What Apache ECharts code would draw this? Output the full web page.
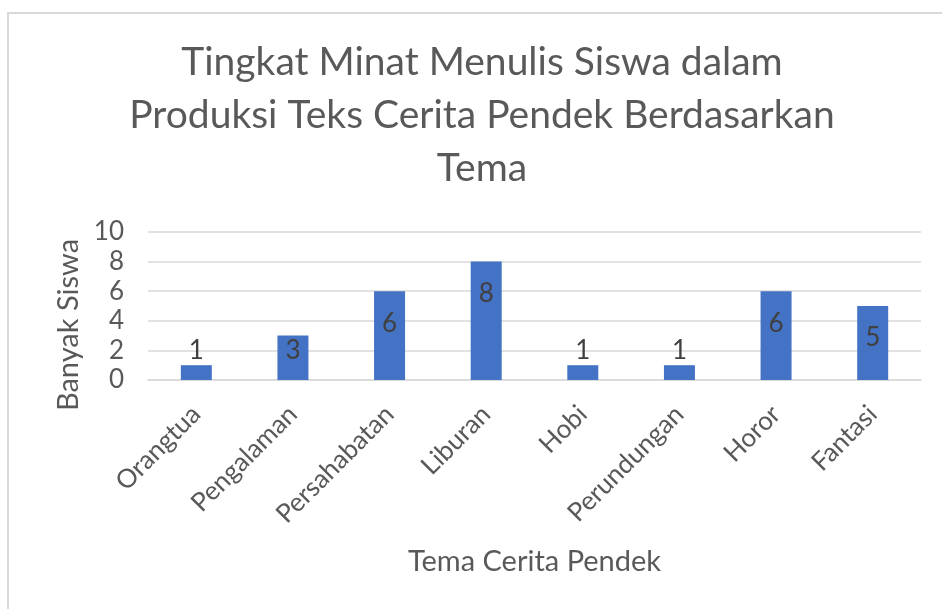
<!DOCTYPE html>
<html>
<head>
<meta charset="utf-8">
<script src="https://cdn.jsdelivr.net/npm/echarts@6/dist/echarts.min.js"></script>
<style>
  html, body { margin: 0; padding: 0; background: #fff; overflow: hidden; }
  #chart {
    position: absolute; left: 7px; top: 12px;
    width: 946px; height: 600px;
    border: 2px solid #d9d9d9;
  }
</style>
</head>
<body>
<div id="chart"></div>
<script>
var titleLines = ['Tingkat Minat Menulis Siswa dalam', 'Produksi Teks Cerita Pendek Berdasarkan', 'Tema'];
var categories = ['Orangtua', 'Pengalaman', 'Persahabatan', 'Liburan', 'Hobi', 'Perundungan', 'Horor', 'Fantasi'];
var values = [1, 3, 6, 8, 1, 1, 6, 5];
var yTicks = [0, 2, 4, 6, 8, 10];

var FONT = 'Lato';
var grey = '#595959';

// Excel puts small labels above the bar, bigger ones inside the end
function labelFor(v) {
  if (v <= 1) return { position: 'top', distance: 2 };
  if (v <= 3) return { position: 'insideTop', distance: 2 };
  return { position: 'insideTop', distance: 19 };
}

var chart = echarts.init(document.getElementById('chart'));
chart.setOption({
  animation: false,
  title: {
    text: titleLines.join('\n'),
    left: 'center',
    top: 17,
    textStyle: { fontFamily: FONT, fontSize: 39, fontWeight: 'normal', color: grey, lineHeight: 53 }
  },
  grid: { left: 139, right: 34, top: 218, bottom: 234 },
  xAxis: {
    type: 'category',
    data: categories,
    name: 'Tema Cerita Pendek',
    nameLocation: 'middle',
    nameGap: 167,
    nameTextStyle: { fontFamily: FONT, fontSize: 29, color: grey },
    axisLine: { lineStyle: { color: '#d9d9d9', width: 1.5 } },
    axisTick: { show: false },
    axisLabel: { rotate: 45, margin: 30, fontFamily: FONT, fontSize: 26, color: grey }
  },
  yAxis: {
    type: 'value',
    min: yTicks[0],
    max: yTicks[yTicks.length - 1],
    interval: 2,
    name: 'Banyak Siswa',
    nameLocation: 'middle',
    nameGap: 64,
    nameTextStyle: { fontFamily: FONT, fontSize: 29, color: grey, padding: [0, 38, 0, 0] },
    axisLine: { show: false },
    axisTick: { show: false },
    axisLabel: { margin: 24, fontFamily: FONT, fontSize: 26, color: grey },
    splitLine: { lineStyle: { color: '#d9d9d9', width: 1.5 } }
  },
  series: [{
    type: 'bar',
    barWidth: 31,
    itemStyle: { color: '#4472c4' },
    label: {
      show: true,
      fontFamily: FONT,
      fontSize: 26,
      color: '#404040'
    },
    data: values.map(function (v) {
      return { value: v, label: labelFor(v) };
    })
  }]
});
</script>
</body>
</html>
